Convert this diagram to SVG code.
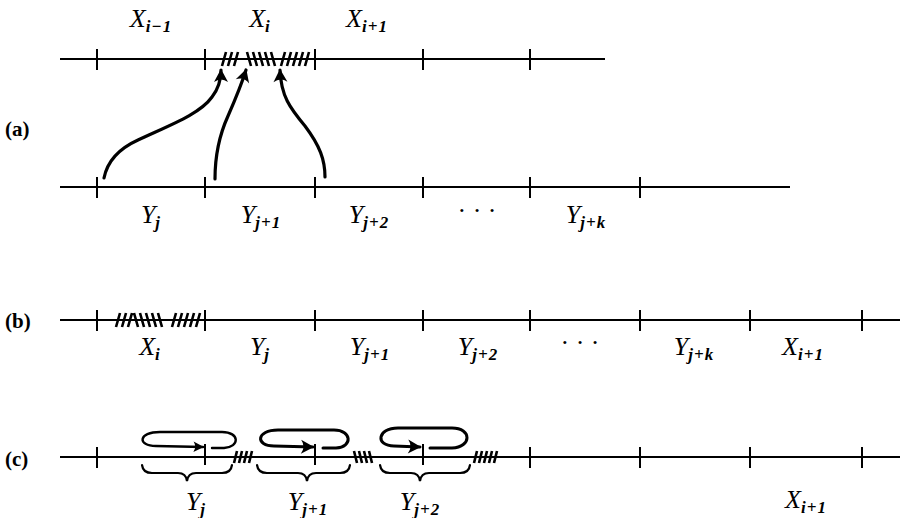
<svg xmlns="http://www.w3.org/2000/svg" width="900" height="518" viewBox="0 0 900 518">
<style>
.ln{stroke:#000;stroke-width:1.8;fill:none}
.tk{stroke:#000;stroke-width:2;fill:none}
.ht{stroke:#000;stroke-width:2.6;fill:none}
.ar{stroke:#000;stroke-width:3.2;fill:none;stroke-linecap:round}
.lp{stroke:#000;stroke-width:2.4;fill:none;stroke-linecap:round}
.br{stroke:#000;stroke-width:2.2;fill:none;stroke-linecap:round}
.v{font-style:italic;font-size:26px;fill:#000}
.s{font-size:17px;font-weight:bold;letter-spacing:1px}
.p{font-size:21px;font-weight:bold;fill:#000}
</style>
<defs>
<marker id="ah" viewBox="-13 -8 15 16" refX="0" refY="0" markerWidth="15" markerHeight="16" markerUnits="userSpaceOnUse" orient="auto">
<path d="M1,0 L-12,-7 Q-7,0 -12,7 Z" fill="#000"/>
</marker>
<marker id="ah2" viewBox="-13 -8 15 16" refX="0" refY="0" markerWidth="13" markerHeight="14" markerUnits="userSpaceOnUse" orient="auto">
<path d="M1,0 L-11,-6 Q-7,0 -11,6 Z" fill="#000"/>
</marker>
</defs>
<g font-family="Liberation Serif, DejaVu Serif, serif">
<g id="labels-panels">
<text class="p" x="5" y="136">(a)</text>
<text class="p" x="5" y="328">(b)</text>
<text class="p" x="5" y="466">(c)</text>
</g>

<g id="line-a-top">
<path class="ln" d="M60,59 L605,59"/>
<path class="tk" d="M97,49 V70 M205,49 V70 M315,49 V70 M423,49 V70 M530,49 V70"/>
<path class="ht" d="M222,66 L226,52 M228,66 L232,52 M234,66 L238,52 M247,52 L251,66 M253,52 L257,66 M259,52 L263,66 M265,52 L269,66 M271,52 L275,66 M281,66 L285,52 M287,66 L291,52 M293,66 L297,52 M299,66 L303,52 M305,66 L309,52"/>
<text class="v" x="151" y="27" text-anchor="middle">X<tspan class="s" dy="5">i−1</tspan></text>
<text class="v" x="260" y="27" text-anchor="middle">X<tspan class="s" dy="5">i</tspan></text>
<text class="v" x="367" y="27" text-anchor="middle">X<tspan class="s" dy="5">i+1</tspan></text>
</g>

<g id="line-a-bottom">
<path class="ln" d="M60,187 L790,187"/>
<path class="tk" d="M97,177 V198 M205,177 V198 M315,177 V198 M423,177 V198 M530,177 V198 M640,177 V198"/>
<text class="v" x="151" y="223" text-anchor="middle">Y<tspan class="s" dy="5">j</tspan></text>
<text class="v" x="261" y="223" text-anchor="middle">Y<tspan class="s" dy="5">j+1</tspan></text>
<text class="v" x="369" y="223" text-anchor="middle">Y<tspan class="s" dy="5">j+2</tspan></text>
<text class="v" x="477" y="219" text-anchor="middle" style="font-style:normal">· · ·</text>
<text class="v" x="586" y="223" text-anchor="middle">Y<tspan class="s" dy="5">j+k</tspan></text>
</g>

<g id="connectors">
<path class="ar" marker-end="url(#ah)" d="M104,178 C107,163 116,150 138,140 C170,125 200,114 212,97 C219,88 221,78 221,70"/>
<path class="ar" marker-end="url(#ah)" d="M215,179 C215,160 218,138 228,116 C235,100 241,86 246,70"/>
<path class="ar" marker-end="url(#ah)" d="M325,177 C325,160 320,146 305,126 C290,108 281,96 280,70"/>
</g>

<g id="line-b">
<path class="ln" d="M60,320 L900,320"/>
<path class="tk" d="M97,310 V331 M205,310 V331 M315,310 V331 M423,310 V331 M530,310 V331 M640,310 V331 M750,310 V331 M862,310 V331"/>
<path class="ht" d="M116,327 L120,313 M122,327 L126,313 M128,327 L132,313 M134,313 L138,327 M140,313 L144,327 M146,313 L150,327 M152,313 L156,327 M158,313 L162,327 M172,327 L176,313 M178,327 L182,313 M184,327 L188,313 M190,327 L194,313 M196,327 L200,313"/>
<text class="v" x="150" y="355" text-anchor="middle">X<tspan class="s" dy="5">i</tspan></text>
<text class="v" x="260" y="355" text-anchor="middle">Y<tspan class="s" dy="5">j</tspan></text>
<text class="v" x="370" y="355" text-anchor="middle">Y<tspan class="s" dy="5">j+1</tspan></text>
<text class="v" x="478" y="355" text-anchor="middle">Y<tspan class="s" dy="5">j+2</tspan></text>
<text class="v" x="580" y="351" text-anchor="middle" style="font-style:normal">· · ·</text>
<text class="v" x="694" y="355" text-anchor="middle">Y<tspan class="s" dy="5">j+k</tspan></text>
<text class="v" x="803" y="355" text-anchor="middle">X<tspan class="s" dy="5">i+1</tspan></text>
</g>

<g id="line-c">
<path class="ln" d="M60,457 L900,457"/>
<path class="tk" d="M97,447 V468 M205,444 V465 M315,444 V465 M423,444 V465 M530,447 V468 M640,447 V468 M750,447 V468 M862,447 V468"/>
<path class="ht" d="M234,463 L237,451 M239,463 L242,451 M244,463 L247,451 M249,463 L252,451 M354,451 L357,463 M359,451 L362,463 M364,451 L367,463 M369,451 L372,463 M474,463 L477,451 M479,463 L482,451 M484,463 L487,451 M489,463 L492,451 M494,463 L497,451"/>
<path class="lp" marker-end="url(#ah2)" d="M212,448 L224,448 C240,447 240,432 222,432 L160,432 C138,432 137,446 156,446 L203,447"/>
<path class="lp" style="stroke-width:3" marker-end="url(#ah)" d="M323,448 L336,448 C353,447 352,430 334,430 L278,430 C256,430 255,446 274,446 L313,447"/>
<path class="lp" style="stroke-width:3" marker-end="url(#ah)" d="M430,448 L452,448 C472,447 472,428 452,428 L398,428 C377,428 375,446 394,446 L420,447"/>
<path class="br" d="M142,465 Q143,473 152,473 L178,473 Q186,473 187,481 Q188,473 196,473 L222,473 Q231,473 232,465"/>
<path class="br" d="M257,465 Q258,473 267,473 L298,473 Q306,473 307,481 Q308,473 316,473 L340,473 Q349,473 350,465"/>
<path class="br" d="M380,465 Q381,473 390,473 L411,473 Q419,473 420,481 Q421,473 429,473 L460,473 Q469,473 470,465"/>
<text class="v" x="196" y="510" text-anchor="middle">Y<tspan class="s" dy="5">j</tspan></text>
<text class="v" x="308" y="510" text-anchor="middle">Y<tspan class="s" dy="5">j+1</tspan></text>
<text class="v" x="420" y="510" text-anchor="middle">Y<tspan class="s" dy="5">j+2</tspan></text>
<text class="v" x="806" y="508" text-anchor="middle">X<tspan class="s" dy="5">i+1</tspan></text>
</g>
</g>
</svg>
